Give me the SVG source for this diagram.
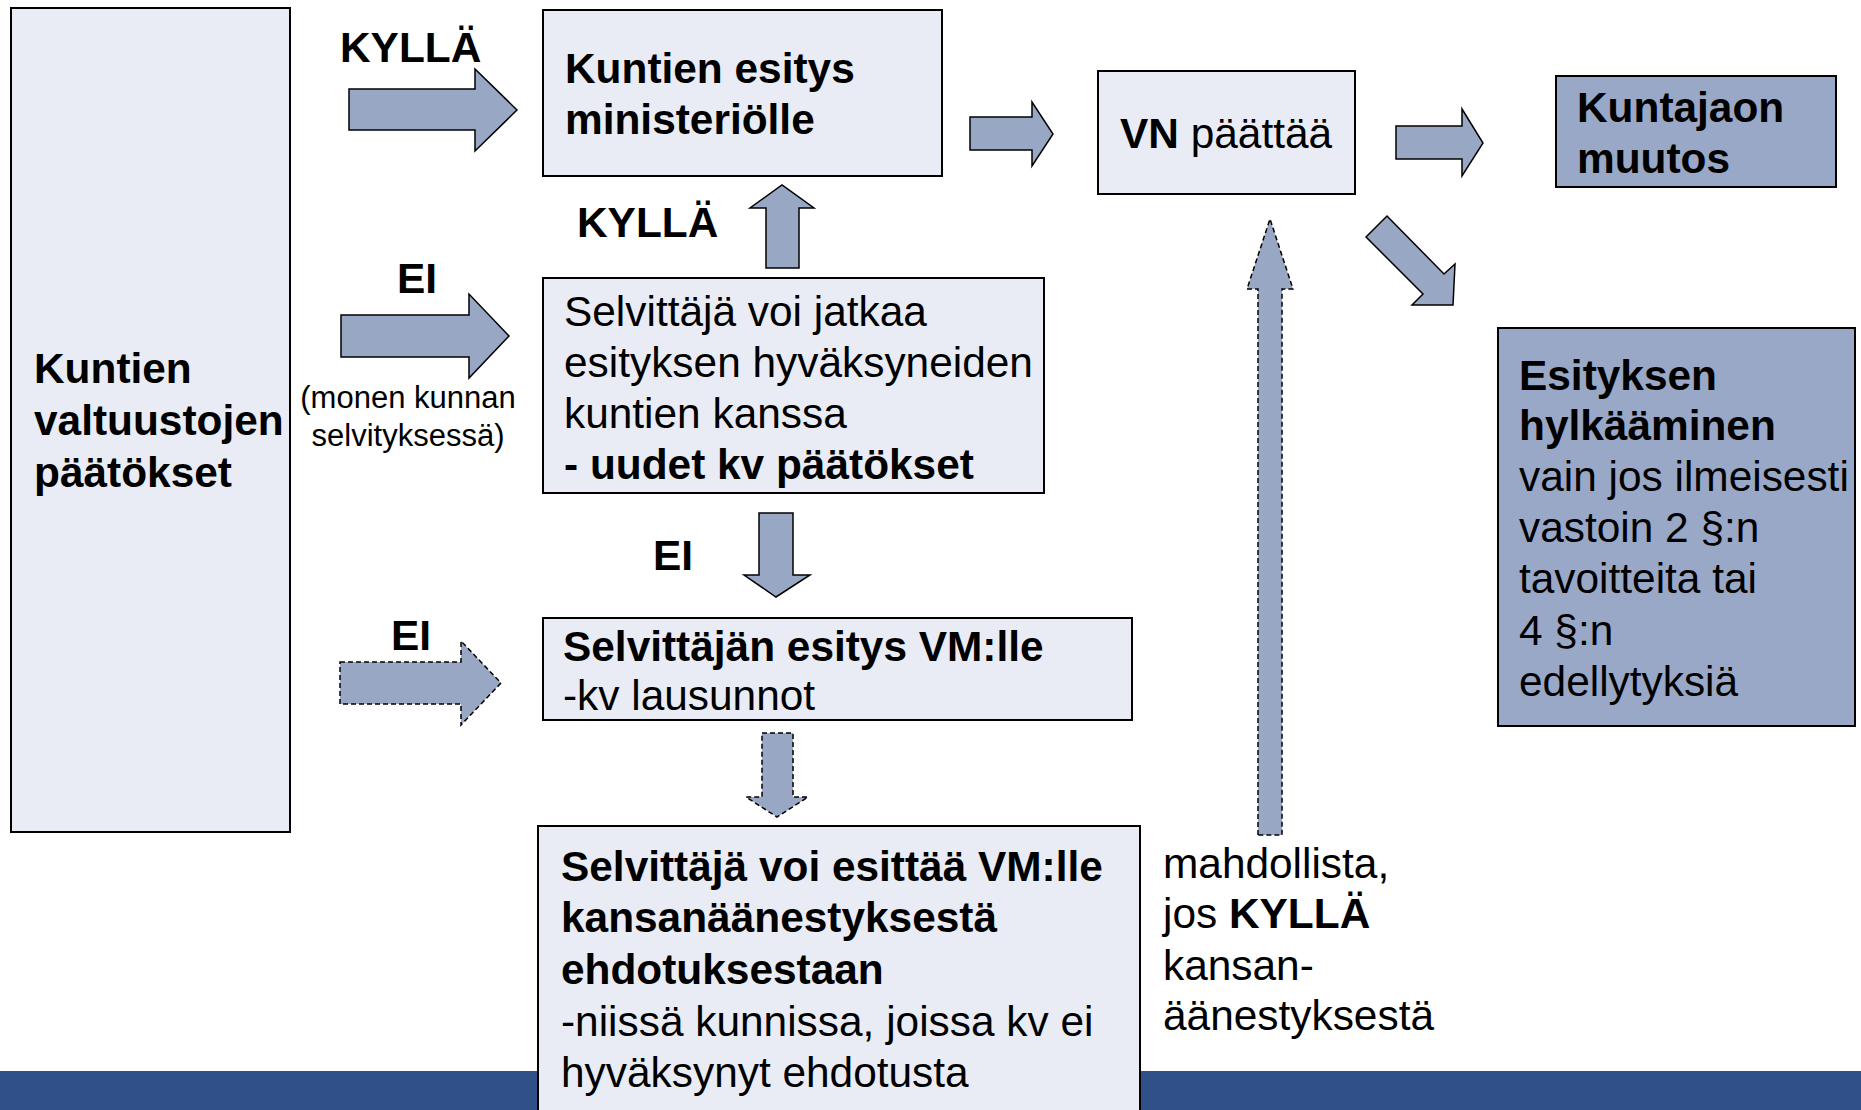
<svg xmlns="http://www.w3.org/2000/svg" width="1861" height="1110" viewBox="0 0 1861 1110">
<style>
text{font-family:"Liberation Sans",Arial,sans-serif;font-size:42.4px;fill:#000}
.b{font-weight:bold}
.sm{font-size:31px}
.light{fill:#e9ecf5;stroke:#000;stroke-width:2}
.dark{fill:#98a8c6;stroke:#000;stroke-width:2}
.arr{fill:#98a8c4;stroke:#000;stroke-width:1.5;stroke-linejoin:miter}
.dash{stroke-dasharray:5 3}
</style>
<rect width="1861" height="1110" fill="#fff"/>
<rect id="band" x="0" y="1071" width="1861" height="39" fill="#2f5089"/>

<g id="connectors">
  <polygon class="arr" points="349,89 475,89 475,69 517,110 475,151 475,130 349,130"/>
  <polygon class="arr" points="341,315 469,315 469,294 509,336 469,378 469,357 341,357"/>
  <polygon class="arr dash" points="340,662 461,662 461,641 501,683 461,725 461,704 340,704"/>
  <polygon class="arr" points="970,117 1032,117 1032,102 1053,134 1032,166 1032,150 970,150"/>
  <polygon class="arr" points="1396,126 1462,126 1462,109 1483,143 1462,176 1462,159 1396,159"/>
  <polygon class="arr" points="1366,237 1387,216 1444,274 1455,264 1453,305 1412,305 1423,294"/>
  <polygon class="arr" points="766,268 766,208 750,208 782,185 814,208 799,208 799,268"/>
  <polygon class="arr" points="759,513 793,513 793,575 810,575 776,597 744,575 759,575"/>
  <polygon class="arr dash" points="762,733 793,733 793,797 808,797 777,817 746,797 762,797"/>
  <polygon class="arr dash" points="1258,835 1258,289 1247,289 1270,219 1293,289 1282,289 1282,835"/>
</g>

<g id="labels">
  <text class="b" x="340" y="62">KYLLÄ</text>
  <text class="b" x="577" y="237">KYLLÄ</text>
  <text class="b" x="397" y="293">EI</text>
  <text class="sm" x="408" y="408" text-anchor="middle">(monen kunnan</text>
  <text class="sm" x="408" y="446" text-anchor="middle">selvityksessä)</text>
  <text class="b" x="653" y="570">EI</text>
  <text class="b" x="391" y="650">EI</text>
  <text x="1163" y="878">mahdollista,</text>
  <text x="1163" y="928">jos <tspan class="b">KYLLÄ</tspan></text>
  <text x="1163" y="980">kansan-</text>
  <text x="1163" y="1030">äänestyksestä</text>
</g>

<g id="node-valtuustot">
  <rect class="light" x="11" y="8" width="279" height="824"/>
  <text class="b" x="34" y="383">Kuntien</text>
  <text class="b" x="34" y="435">valtuustojen</text>
  <text class="b" x="34" y="487">päätökset</text>
</g>

<g id="node-esitys">
  <rect class="light" x="543" y="10" width="399" height="166"/>
  <text class="b" x="565" y="83">Kuntien esitys</text>
  <text class="b" x="565" y="134">ministeriölle</text>
</g>

<g id="node-jatkaa">
  <rect class="light" x="543" y="278" width="501" height="215"/>
  <text x="564" y="326">Selvittäjä voi jatkaa</text>
  <text x="564" y="377">esityksen hyväksyneiden</text>
  <text x="564" y="428">kuntien kanssa</text>
  <text class="b" x="564" y="479">- uudet kv päätökset</text>
</g>

<g id="node-selvittajan">
  <rect class="light" x="543" y="618" width="589" height="102"/>
  <text class="b" x="563" y="661">Selvittäjän esitys VM:lle</text>
  <text x="563" y="710">-kv lausunnot</text>
</g>

<g id="node-kansanaanestys">
  <rect class="light" x="538" y="826" width="602" height="300"/>
  <text class="b" x="561" y="881">Selvittäjä voi esittää VM:lle</text>
  <text class="b" x="561" y="932">kansanäänestyksestä</text>
  <text class="b" x="561" y="984">ehdotuksestaan</text>
  <text x="561" y="1036">-niissä kunnissa, joissa kv ei</text>
  <text x="561" y="1087">hyväksynyt ehdotusta</text>
</g>

<g id="node-vn">
  <rect class="light" x="1098" y="71" width="257" height="123"/>
  <text x="1120" y="148"><tspan class="b">VN</tspan> päättää</text>
</g>

<g id="node-muutos">
  <rect class="dark" x="1556" y="76" width="280" height="111"/>
  <text class="b" x="1577" y="122">Kuntajaon</text>
  <text class="b" x="1577" y="173">muutos</text>
</g>

<g id="node-hylkaaminen">
  <rect class="dark" x="1498" y="328" width="357" height="398"/>
  <text class="b" x="1519" y="390">Esityksen</text>
  <text class="b" x="1519" y="440">hylkääminen</text>
  <text x="1519" y="491">vain jos ilmeisesti</text>
  <text x="1519" y="542">vastoin 2 §:n</text>
  <text x="1519" y="593">tavoitteita tai</text>
  <text x="1519" y="645">4 §:n</text>
  <text x="1519" y="696">edellytyksiä</text>
</g>
</svg>
